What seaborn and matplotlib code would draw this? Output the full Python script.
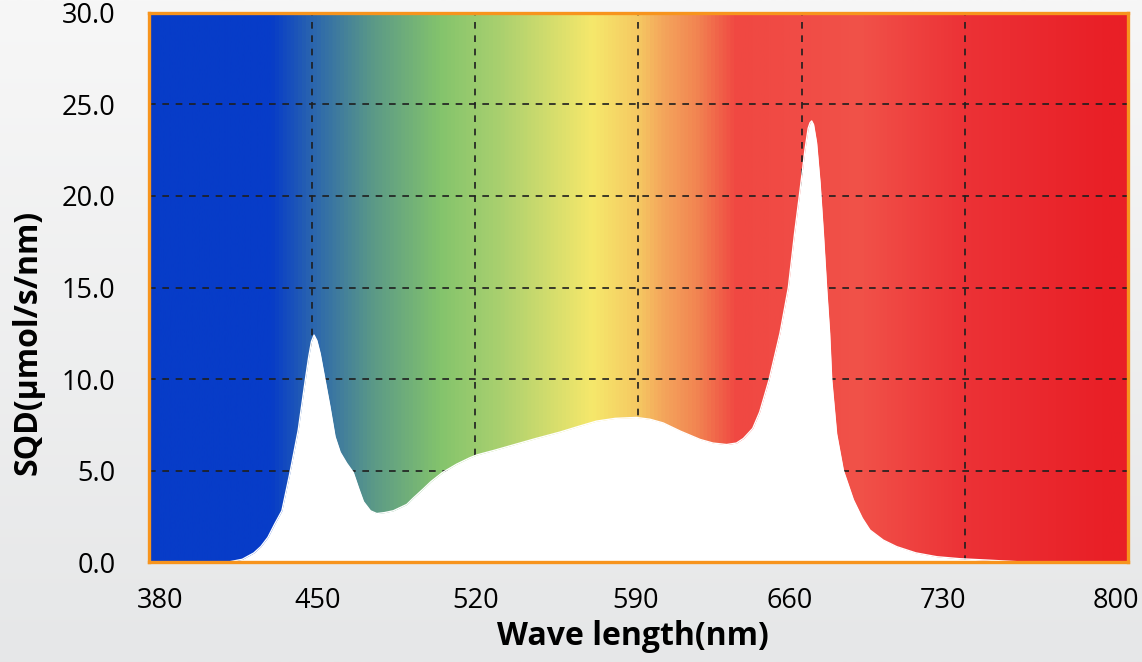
import numpy as np
import pandas as pd
import matplotlib
matplotlib.use("Agg")
import matplotlib.pyplot as plt
import matplotlib.transforms as mtransforms
import seaborn as sns
from matplotlib.colors import LinearSegmentedColormap

# spectrum (nm, umol/s/nm)
wavelength = [380, 414, 420, 425, 428, 431, 434, 437, 440.5, 444, 447, 448.5,
              449.7, 450.8, 452, 453.4, 455.5, 457.6, 459.8, 462, 464.8, 467.6,
              470, 472, 475, 477.7, 481, 484.8, 490.6, 493.4, 497.7, 501, 506,
              512, 517.7, 520.6, 528, 536.3, 546, 556.3, 564, 572, 580, 589,
              595, 600.6, 608, 616.4, 622, 627.8, 632, 635, 639, 642, 646,
              650.7, 654.3, 657, 659.3, 661.4, 662.8, 663.6, 664.3, 665.1,
              666.4, 667.9, 669.3, 670.7, 672, 672.9, 675, 677.9, 682.2, 686,
              689.3, 695, 700.8, 709, 718, 728, 739, 748, 755, 800]
sqd = [0, 0, 0.15, 0.5, 0.85, 1.35, 2.1, 2.8, 4.9, 7.2, 9.9, 11.2,
       12.05, 12.4, 12.1, 11.4, 9.95, 8.5, 6.85, 6.0, 5.4, 4.9,
       4.0, 3.3, 2.8, 2.65, 2.7, 2.8, 3.15, 3.5, 4.0, 4.4, 4.9,
       5.35, 5.7, 5.85, 6.1, 6.4, 6.75, 7.1, 7.4, 7.7, 7.85, 7.9,
       7.8, 7.6, 7.15, 6.7, 6.5, 6.42, 6.5, 6.75, 7.3, 8.2, 9.95,
       12.5, 15.0, 18.0, 20.3, 22.5, 23.7, 24.0, 24.1, 23.9,
       22.9, 20.7, 18.0, 15.0, 12.5, 9.95, 7.0, 5.0, 3.4, 2.4,
       1.75, 1.2, 0.84, 0.5, 0.29, 0.18, 0.11, 0.05, 0, 0]

x_ticks = [380, 450, 520, 590, 660, 730, 800]
y_ticks = [0, 5, 10, 15, 20, 25, 30]
# the x labels in the picture sit a little off their grid lines (pixels)
x_label_shift = [11, 5, 0, -3, -12, -22, -12]

# colour stops of the background spectrum
stop_nm = [380, 432, 450, 475, 505, 530, 570, 590, 600, 615, 632, 660, 685, 730, 790, 800]
stop_col = ["#073cc8", "#073cc8", "#2b66ae", "#5a9888", "#84c46c", "#a9d06f",
            "#f6e86b", "#f5c862", "#f4a75c", "#f28552", "#f04842", "#f04c46",
            "#f15249", "#ec3236", "#e92027", "#e91f26"]

df = pd.DataFrame({"wavelength": wavelength, "sqd": sqd})

sns.set_theme(style="white")
plt.rcParams["font.family"] = ["Open Sans", "DejaVu Sans"]

fig = plt.figure(figsize=(11.42, 6.62), dpi=100)

# light grey backdrop
bg = fig.add_axes([0, 0, 1, 1])
bg.imshow(np.linspace(0, 1, 256).reshape(-1, 1),
          cmap=LinearSegmentedColormap.from_list("bg", ["#f7f7f7", "#e6e7e8"]),
          aspect="auto", extent=[0, 1, 0, 1])
bg.set_axis_off()

ax = fig.add_axes([0.1305, 0.151, 0.8572, 0.8294])

pos = [(n - 380) / 420 for n in stop_nm]
spec_cmap = LinearSegmentedColormap.from_list("spec", list(zip(pos, stop_col)))
ax.imshow(np.linspace(0, 1, 1024).reshape(1, -1), cmap=spec_cmap, aspect="auto",
          extent=[380, 800, 0, 30], zorder=0)

ax.grid(True, color="#1e1e1e", linestyle=(0, (4, 4)), linewidth=1.2)
ax.set_axisbelow(True)

ax.fill_between(df["wavelength"], df["sqd"], 0, color="white", zorder=2, lw=0)
sns.lineplot(data=df, x="wavelength", y="sqd", color="white", lw=1, ax=ax, zorder=3)

ax.set_xlim(380, 800)
ax.set_ylim(0, 30)
ax.set_xticks(x_ticks)
ax.set_yticks(y_ticks)
ax.set_xticklabels([str(t) for t in x_ticks], fontsize=19.5)
ax.set_yticklabels([f"{t:.1f}" for t in y_ticks], fontsize=19.5)
ax.tick_params(axis="x", length=0, pad=18, colors="black")
ax.tick_params(axis="y", length=0, pad=24, colors="black")

for lab, dx in zip(ax.get_xticklabels(), x_label_shift):
    lab.set_transform(lab.get_transform() +
                      mtransforms.ScaledTranslation(dx / 100, 0, fig.dpi_scale_trans))

for s in ax.spines.values():
    s.set_color("#f7941d")
    s.set_linewidth(2.4)
    s.set_zorder(5)

ax.set_xlabel("Wave length(nm)", fontsize=23, fontweight="bold", color="black")
ax.set_ylabel("SQD(μmol/s/nm)", fontsize=23, fontweight="bold", color="black")
ax.xaxis.set_label_coords(0.494, -0.136)
ax.yaxis.set_label_coords(-0.124, 0.40)
ax.xaxis.label.set_va("center")
ax.yaxis.label.set_va("center")

fig.savefig("out.png", dpi=100)
